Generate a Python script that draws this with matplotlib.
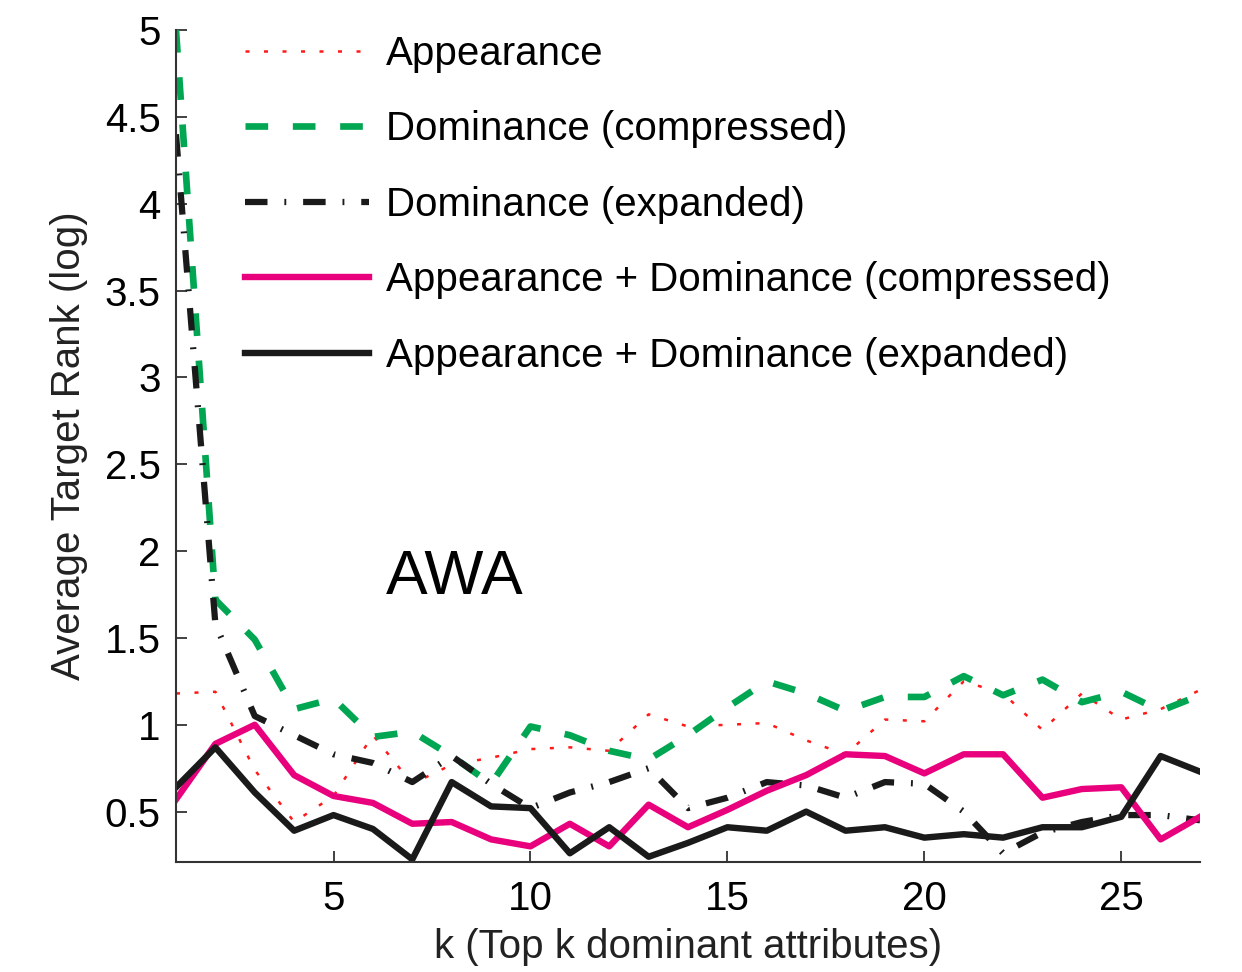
import matplotlib
matplotlib.use('Agg')
import matplotlib.pyplot as plt

plt.rcParams['font.family'] = ['Liberation Sans', 'DejaVu Sans']

k = list(range(1, 28))

appearance = [1.18, 1.19, 0.74, 0.44, 0.59, 0.94, 0.66, 0.77, 0.81, 0.86, 0.87, 0.85, 1.06, 0.99,
              1.00, 1.01, 0.91, 0.83, 1.03, 1.02, 1.25, 1.18, 0.97, 1.18, 1.03, 1.09, 1.20]
dom_compressed = [5.0, 1.72, 1.49, 1.09, 1.15, 0.93, 0.96, 0.82, 0.66, 0.99, 0.94, 0.85, 0.80, 0.94,
                  1.10, 1.25, 1.18, 1.08, 1.16, 1.16, 1.28, 1.17, 1.26, 1.13, 1.19, 1.08, 1.17]
dom_expanded = [4.40, 1.58, 1.05, 0.94, 0.83, 0.78, 0.67, 0.82, 0.66, 0.52, 0.61, 0.67, 0.75, 0.52,
                0.58, 0.67, 0.65, 0.58, 0.67, 0.66, 0.50, 0.26, 0.38, 0.44, 0.48, 0.48, 0.45]
app_dom_compressed = [0.57, 0.89, 1.00, 0.71, 0.59, 0.55, 0.43, 0.44, 0.34, 0.30, 0.43, 0.30, 0.54, 0.41,
                      0.51, 0.62, 0.71, 0.83, 0.82, 0.72, 0.83, 0.83, 0.58, 0.63, 0.64, 0.34, 0.47]
app_dom_expanded = [0.64, 0.87, 0.61, 0.39, 0.48, 0.40, 0.225, 0.67, 0.53, 0.52, 0.26, 0.41, 0.24, 0.32,
                    0.41, 0.39, 0.50, 0.39, 0.41, 0.35, 0.37, 0.35, 0.41, 0.41, 0.47, 0.82, 0.73]

labels = ['Appearance', 'Dominance (compressed)', 'Dominance (expanded)',
          'Appearance + Dominance (compressed)', 'Appearance + Dominance (expanded)']
yticks = [0.5, 1, 1.5, 2, 2.5, 3, 3.5, 4, 4.5, 5]
ytick_labels = ['0.5', '1', '1.5', '2', '2.5', '3', '3.5', '4', '4.5', '5']
xticks = [5, 10, 15, 20, 25]


def main():
    fig = plt.figure(figsize=(12.42, 9.72), dpi=100)
    ax = fig.add_axes([0.1417, 0.1132, 0.8245, 0.8559])

    # MATLAB-like styles: thin red dots, thick green dashes, dash-dot black
    ax.plot(k, appearance, color='#ff1a1a', lw=1.8, linestyle=(0, (1.6, 5.8)), label=labels[0])
    ax.plot(k, dom_compressed, color='#00a651', lw=4.8, linestyle=(0, (3.4, 3.7)), label=labels[1])
    ax.plot(k, dom_expanded, color='#1a1a1a', lw=4.5, linestyle=(0, (3.6, 2.7, 0.3, 2.7)), label=labels[2])
    ax.plot(k, app_dom_compressed, color='#e8007d', lw=4.6, label=labels[3])
    ax.plot(k, app_dom_expanded, color='#1a1a1a', lw=4.6, label=labels[4])

    ax.set_xlim(1, 27)
    ax.set_ylim(0.21, 5)
    ax.set_xticks(xticks)
    ax.set_yticks(yticks)
    ax.set_yticklabels(ytick_labels)
    ax.tick_params(direction='in', length=8, width=1.3, labelsize=29, color='#333333')
    ax.tick_params(axis='x', pad=13)
    ax.tick_params(axis='y', pad=11)
    for side in ['top', 'right']:
        ax.spines[side].set_visible(False)
    for side in ['left', 'bottom']:
        ax.spines[side].set_linewidth(1.5)
        ax.spines[side].set_color('#333333')

    ax.set_xlabel('k (Top k dominant attributes)', fontsize=29, color='#222222', labelpad=7)
    ax.set_ylabel('Average Target Rank (log)', fontsize=29, color='#222222', labelpad=12)
    ax.text(6.32, 1.85, 'AWA', fontsize=45, ha='left', va='center')

    ax.legend(loc='upper left', bbox_to_anchor=(0.067, 0.994), frameon=False, fontsize=29,
              handlelength=3.1, handletextpad=0.42, labelspacing=0.93, borderaxespad=0, borderpad=0)

    fig.savefig('out.png', dpi=100)


if __name__ == '__main__':
    main()
